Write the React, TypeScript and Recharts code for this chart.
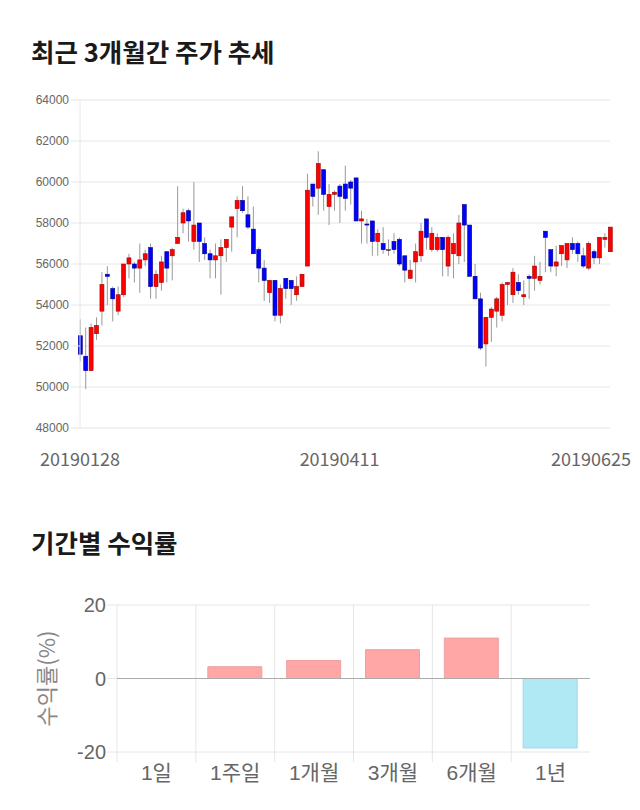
import React from 'react';
import { ComposedChart, BarChart, Bar, XAxis, YAxis, CartesianGrid, Cell, ReferenceLine } from 'recharts';

// daily candles, 2019-01-28 .. 2019-06-25
const candleOpen = [
  52500, 51500, 50800, 52600, 53700, 55500, 54800, 53700, 54500, 56000,
  56000, 55800, 56200, 56800, 54900, 55100, 56600, 56400, 57000, 58000,
  58600, 57100, 58000, 57000, 56500, 56200, 56400, 56800, 57800, 58700,
  59100, 58400, 57700, 56700, 55800, 54600, 55200, 53500, 55300, 55200,
  54500, 54900, 55900, 59900, 59700, 60600, 58800, 59400, 59800, 59900,
  60000, 60200, 58100, 57950, 58100, 57100, 57000, 56700, 57100, 57200,
  56400, 55300, 56100, 56400, 58200, 56700, 56700, 57300, 55900, 56500,
  56400, 58900, 57900, 55400, 54300, 52100, 53400, 53700, 53500, 55000,
  54500, 55100, 54400, 55400, 55300, 55200, 57600, 56700, 55900, 56500,
  56200, 57000, 57000, 56400, 55800, 56600, 56300, 57200, 56600,
];
const candleHigh = [
  53300, 52900, 53100, 53400, 55600, 55900, 54900, 54900, 56000, 56500,
  56100, 57000, 56700, 57000, 55700, 56400, 56600, 56800, 59800, 58700,
  58700, 60000, 58000, 57300, 56700, 57000, 57200, 57200, 58300, 59300,
  59800, 59300, 58800, 56800, 56200, 55200, 55200, 55000, 55300, 55200,
  55400, 55500, 60400, 59900, 61500, 60600, 59900, 59600, 59900, 60800,
  60100, 60200, 58600, 58200, 58100, 57700, 57800, 57200, 57500, 57300,
  56400, 56200, 57000, 58000, 58200, 57800, 57500, 57300, 57400, 57500,
  58400, 58900, 57900, 56000, 54600, 53400, 53900, 54400, 55100, 55100,
  55800, 55500, 55200, 55500, 56400, 56100, 57600, 56700, 56900, 56900,
  57000, 57300, 57100, 56800, 57100, 56700, 57300, 57500, 57800,
];
const candleLow = [
  51250, 49900, 50800, 52300, 53000, 54000, 53200, 53500, 54400, 55300,
  55100, 54600, 55900, 54300, 54300, 54700, 55100, 55200, 57000, 57500,
  57100, 56700, 56100, 56200, 55300, 55300, 54500, 56100, 56600, 57300,
  58500, 57700, 56500, 55100, 54200, 54100, 53200, 53100, 54300, 54000,
  54200, 54900, 55900, 58800, 58400, 58600, 57900, 58600, 58000, 58600,
  58900, 58100, 57000, 57000, 56400, 56400, 56500, 56400, 56500, 55900,
  55100, 55300, 55100, 56100, 56700, 56600, 56600, 55400, 55400, 55300,
  56000, 56100, 55400, 54300, 51800, 51000, 52200, 52900, 53200, 54000,
  54100, 54500, 54000, 54300, 54700, 55000, 55600, 55600, 55400, 55900,
  55800, 56500, 56100, 55800, 55700, 56000, 56000, 56800, 56600,
];
const candleClose = [
  51600, 50800, 52900, 53000, 55000, 55400, 54300, 54500, 56000, 56300,
  55800, 56200, 56500, 54900, 55500, 56100, 55800, 56700, 57300, 58500,
  58100, 57900, 57100, 56500, 56200, 56400, 56800, 57200, 58300, 59100,
  58600, 57800, 56500, 55800, 55200, 55200, 53500, 54800, 54800, 54800,
  54900, 55500, 59600, 59300, 60900, 59400, 59400, 59500, 59300, 59200,
  59700, 58100, 58200, 57900, 57100, 57500, 56700, 56700, 56700, 56000,
  55700, 55700, 56600, 57600, 57300, 57500, 57300, 56700, 57300, 57000,
  58000, 57900, 55400, 54300, 51900, 53400, 53800, 54300, 55000, 55100,
  55600, 54700, 54500, 55300, 55900, 55400, 57300, 55900, 56100, 56900,
  57000, 56700, 56500, 55900, 57000, 56300, 57300, 57300, 57800,
];
const dateTicks = [0, 48, 98];
const dateLabels = ['20190128', '20190411', '20190625'];
const priceTicks = [48000, 50000, 52000, 54000, 56000, 58000, 60000, 62000, 64000];

// period returns (%)
const periods = ['1일', '1주일', '1개월', '3개월', '6개월', '1년'];
const periodReturns = [0, 3.2, 4.9, 7.85, 11.0, -18.9];
const returnTicks = [-20, 0, 20];

const candleData = candleOpen.map((o, i) => ({
  i,
  o,
  h: candleHigh[i],
  l: candleLow[i],
  c: candleClose[i],
}));

const returnData = periods.map((name, k) => ({ name, v: periodReturns[k] }));

const KR = '"Noto Sans CJK KR", "Noto Sans", sans-serif';
const LAT = '"Liberation Sans", Arial, "Noto Sans CJK KR", sans-serif';
const GRID = '#e6e6e6';

const Candle = (props: any) => {
  const { x, y, width, height, payload } = props;
  const { o, h, l, c } = payload;
  const cx = x + width / 2;
  const py = (p: number) => y + ((h - p) / (h - l)) * height;
  const top = py(Math.max(o, c));
  const bot = py(Math.min(o, c));
  const flat = o === c;
  const up = c > o;
  const fill = flat ? '#444' : up ? '#ff0000' : '#0000ff';
  const stroke = flat ? '#444' : up ? '#a00000' : '#00008c';
  return (
    <g>
      <line x1={cx} x2={cx} y1={y} y2={y + height} stroke="#999" strokeWidth={1} />
      <rect x={cx - 2} y={top} width={4} height={Math.max(bot - top, 1)} fill={fill} stroke={stroke} strokeWidth={0.6} />
    </g>
  );
};

const DateTick = (props: any) => {
  const { x, y, payload } = props;
  const k = dateTicks.indexOf(payload.value);
  const last = k === dateTicks.length - 1;
  return (
    <text x={last ? x + 21 : x} y={y + 38} textAnchor={last ? 'end' : 'middle'} fill="#666" fontSize={18} fontFamily={KR}>
      {dateLabels[k]}
    </text>
  );
};

const PeriodTick = (props: any) => {
  const { x, y, payload } = props;
  const band = 473 / periods.length;
  return (
    <g>
      <line x1={x - band / 2} x2={x - band / 2} y1={y} y2={y + 10} stroke={GRID} />
      <text x={x} y={y + 20} dy="0.36em" textAnchor="middle" fill="#666" fontSize={21} fontFamily={LAT}>
        {payload.value}
      </text>
    </g>
  );
};

export default function App() {
  return (
    <div style={{ position: 'absolute', left: 0, top: 0, width: 640, height: 810, background: '#fff', overflow: 'hidden' }}>
      <div style={{ position: 'absolute', left: 31, top: 36, fontFamily: KR, fontWeight: 700, fontSize: 25.5, lineHeight: '30px', color: '#1a1a1a' }}>
        최근 3개월간 주가 추세
      </div>
      <div style={{ position: 'absolute', left: 31, top: 527, fontFamily: KR, fontWeight: 700, fontSize: 25.5, lineHeight: '30px', color: '#1a1a1a' }}>
        기간별 수익률
      </div>

      <div style={{ position: 'absolute', left: 0, top: 0 }}>
        <ComposedChart width={640} height={480} data={candleData} margin={{ top: 100, right: 30, left: 0, bottom: 0 }}>
          <CartesianGrid horizontal vertical={false} stroke={GRID} />
          <XAxis
            type="number"
            dataKey="i"
            domain={[0, 98]}
            ticks={dateTicks}
            interval={0}
            axisLine={false}
            tickLine={false}
            tickSize={0}
            tickMargin={0}
            height={52}
            tick={<DateTick />}
          />
          <YAxis
            domain={[48000, 64000]}
            ticks={priceTicks}
            interval={0}
            width={80}
            tickSize={9}
            tickMargin={2}
            tickLine={{ stroke: GRID }}
            axisLine={{ stroke: GRID }}
            tick={{ fontSize: 12, fill: '#666', fontFamily: LAT }}
          />
          <Bar dataKey={(d: any) => [d.l, d.h]} barSize={4} shape={<Candle />} isAnimationActive={false} />
        </ComposedChart>
      </div>

      <div style={{ position: 'absolute', left: 0, top: 560 }}>
        <BarChart width={640} height={250} data={returnData} margin={{ top: 45, right: 50, left: 0, bottom: 0 }}>
          <CartesianGrid
            stroke={GRID}
            verticalCoordinatesGenerator={({ offset }: any) =>
              periods.map((_, k) => offset.left + (k * offset.width) / periods.length)
            }
          />
          <XAxis
            dataKey="name"
            axisLine={false}
            tickLine={false}
            tickSize={0}
            tickMargin={0}
            height={58}
            interval={0}
            tick={<PeriodTick />}
          />
          <YAxis
            domain={[-20, 20]}
            ticks={returnTicks}
            interval={0}
            width={117}
            tickSize={10}
            tickMargin={1}
            tickLine={{ stroke: GRID }}
            axisLine={false}
            tick={{ fontSize: 20, fill: '#666', fontFamily: LAT }}
            label={{ value: '수익률(%)', angle: -90, position: 'insideLeft', offset: 47, fill: '#888', fontSize: 22, fontFamily: KR, style: { textAnchor: 'middle' } }}
          />
          <ReferenceLine y={0} stroke="#aaa" />
          <Bar dataKey="v" barSize={54} isAnimationActive={false}>
            {returnData.map((d, k) => (
              <Cell key={k} fill={d.v >= 0 ? '#ffa6a6' : '#b0e9f3'} stroke={d.v >= 0 ? '#eea0a0' : '#9fd8e2'} strokeWidth={1} />
            ))}
          </Bar>
        </BarChart>
      </div>
    </div>
  );
}
